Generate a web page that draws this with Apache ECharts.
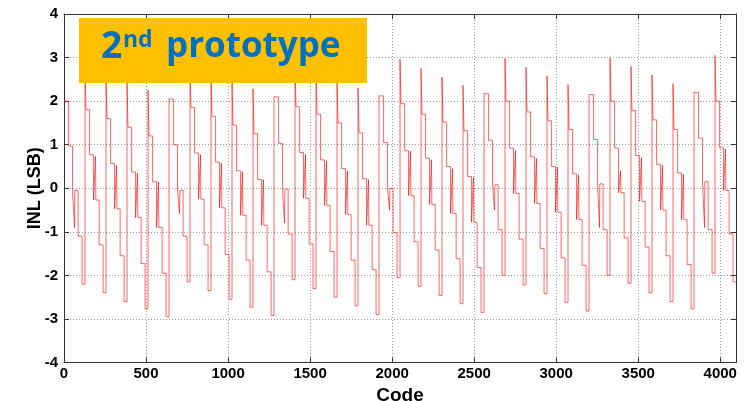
<!DOCTYPE html>
<html>
<head>
<meta charset="utf-8">
<script src="https://cdn.jsdelivr.net/npm/echarts@6/dist/echarts.min.js"></script>
<style>
html,body{margin:0;padding:0;background:#fff;}
#chart{width:748px;height:401px;}
</style>
</head>
<body>
<div id="chart"></div>
<script>
// ---- data ----
const codeMin = 0;
const codeMax = 4096;
const codesPerPeriod = 128;
// length (in codes) of the six plateaus inside one 128-code period
const segmentCodes = [6, 22, 24, 34, 24, 18];
// six plateau levels (LSB) for each of the 32 periods
const inlLevels = [
  [2.00, 2.00, 0.97, -0.05, -1.10, -2.20],
  [2.85, 1.80, 0.77, -0.27, -1.30, -2.40],
  [2.62, 1.60, 0.57, -0.47, -1.55, -2.60],
  [2.45, 1.40, 0.37, -0.67, -1.73, -2.77],
  [2.25, 1.20, 0.15, -0.90, -1.95, -2.95],
  [2.05, 2.05, 1.00, -0.05, -1.10, -2.15],
  [2.88, 1.85, 0.81, -0.25, -1.30, -2.35],
  [2.66, 1.65, 0.60, -0.45, -1.52, -2.55],
  [2.50, 1.45, 0.40, -0.62, -1.65, -2.73],
  [2.28, 1.25, 0.20, -0.85, -1.92, -2.92],
  [2.10, 2.10, 1.03, -0.02, -1.05, -2.10],
  [2.90, 1.87, 0.82, -0.23, -1.28, -2.30],
  [2.70, 1.70, 0.65, -0.40, -1.45, -2.50],
  [2.50, 1.50, 0.45, -0.60, -1.65, -2.70],
  [2.30, 1.27, 0.22, -0.85, -1.87, -2.90],
  [2.12, 2.12, 1.05, 0.00, -1.02, -2.05],
  [2.96, 1.94, 0.86, -0.17, -1.23, -2.25],
  [2.75, 1.70, 0.69, -0.37, -1.42, -2.46],
  [2.55, 1.52, 0.50, -0.58, -1.62, -2.65],
  [2.36, 1.32, 0.27, -0.78, -1.82, -2.85],
  [2.17, 2.17, 1.10, 0.08, -0.95, -2.00],
  [2.98, 2.00, 0.92, -0.12, -1.17, -2.22],
  [2.78, 1.75, 0.72, -0.35, -1.38, -2.42],
  [2.58, 1.55, 0.50, -0.55, -1.60, -2.62],
  [2.38, 1.35, 0.33, -0.72, -1.77, -2.82],
  [2.15, 2.15, 1.12, 0.10, -0.95, -2.00],
  [3.00, 2.00, 0.92, -0.10, -1.14, -2.18],
  [2.80, 1.78, 0.75, -0.30, -1.35, -2.40],
  [2.60, 1.57, 0.55, -0.50, -1.55, -2.60],
  [2.40, 1.35, 0.35, -0.72, -1.75, -2.77],
  [2.20, 2.20, 1.15, 0.15, -0.95, -1.95],
  [3.05, 2.00, 0.93, -0.05, -1.05, -2.15]
];
// short glitch inside the 4th plateau of each period (LSB)
const inlSpikes = [
  -0.90, 0.73, 0.52, 0.35, 0.15, -0.58, 0.77, 0.58, 0.38, 0.20,
  -0.80, 0.78, 0.62, 0.40, 0.20, -0.50, 0.85, 0.65, 0.45, 0.25,
  -0.50, 0.86, 0.68, 0.48, 0.30, -0.90, 0.40, 0.70, 0.52, 0.32,
  -0.90, 0.90
];
const spikeSegment = 3;
const spikeCodeOffset = 12;
const spikeCodeWidth = 2;
const xTicks = [0, 500, 1000, 1500, 2000, 2500, 3000, 3500, 4000];
const yTicks = [-4, -3, -2, -1, 0, 1, 2, 3, 4];
const xName = 'Code';
const yName = 'INL (LSB)';
const titleMain = '2';
const titleSup = 'nd';
const titleRest = 'prototype';

// ---- build the staircase points (code, INL) ----
const points = [];
inlLevels.forEach(function (levels, k) {
  const base = k * codesPerPeriod;
  let off = 0;
  levels.forEach(function (v, s) {
    points.push([base + off, v]);
    if (s === spikeSegment) {
      points.push([base + off + spikeCodeOffset, inlSpikes[k]]);
      points.push([base + off + spikeCodeOffset + spikeCodeWidth, v]);
    }
    off += segmentCodes[s];
  });
});
points.push([codeMax, inlLevels[inlLevels.length - 1][5]]);

const chart = echarts.init(document.getElementById('chart'), null, {renderer: 'canvas'});
const labelFont = {fontFamily: 'Liberation Sans, Arial, sans-serif', fontWeight: 'bold', fontSize: 15, color: '#000'};
const gridLine = {show: true, lineStyle: {color: '#9a9a9a', type: [1, 2], width: 1}};
const frameLine = {show: true, onZero: false, lineStyle: {color: '#333', width: 1}};
const innerTick = {show: true, inside: true, length: 5, lineStyle: {color: '#333'}};

chart.setOption({
  animation: false,
  backgroundColor: '#fff',
  grid: {left: 64, top: 14, width: 672, height: 348.5, containLabel: false, outerBoundsMode: 'none'},
  xAxis: [{
    type: 'value', min: codeMin, max: codeMax, interval: xTicks[1] - xTicks[0],
    axisLine: frameLine, axisTick: innerTick, splitLine: gridLine,
    axisLabel: Object.assign({margin: 4, showMaxLabel: false,
      formatter: function (v) { return xTicks.indexOf(v) >= 0 ? String(v) : ''; }}, labelFont),
    name: xName, nameLocation: 'middle', nameGap: 20,
    nameTextStyle: {fontFamily: 'Liberation Sans, Arial, sans-serif', fontWeight: 'bold', fontSize: 19, color: '#000'}
  }, {
    type: 'value', position: 'top', min: codeMin, max: codeMax, interval: xTicks[1] - xTicks[0],
    axisLine: frameLine, axisTick: innerTick, splitLine: {show: false}, axisLabel: {show: false}
  }],
  yAxis: [{
    type: 'value', min: yTicks[0], max: yTicks[yTicks.length - 1], interval: 1,
    axisLine: frameLine, axisTick: innerTick, splitLine: gridLine,
    axisLabel: Object.assign({margin: 6}, labelFont),
    name: yName, nameLocation: 'middle', nameGap: 20, nameRotate: 90, nameMoveOverlap: false,
    nameTextStyle: {fontFamily: 'Liberation Sans, Arial, sans-serif', fontWeight: 'bold', fontSize: 18, color: '#000'}
  }, {
    type: 'value', position: 'right', min: yTicks[0], max: yTicks[yTicks.length - 1], interval: 1,
    axisLine: frameLine, axisTick: innerTick, splitLine: {show: false}, axisLabel: {show: false}
  }],
  series: [{
    type: 'line', data: points, step: 'end', showSymbol: false, symbol: 'none',
    lineStyle: {color: 'rgba(255,0,0,0.6)', width: 1}, clip: true, z: 3
  }],
  graphic: [
    {type: 'rect', left: 79, top: 18, shape: {width: 288, height: 65}, style: {fill: '#FFC000'}, z: 100},
    {type: 'text', x: 101, y: 47, z: 101, style: {text: titleMain, fill: '#0070C0',
      font: 'bold 37px "Open Sans", "Noto Sans", sans-serif', textVerticalAlign: 'middle', verticalAlign: 'middle'}},
    {type: 'text', x: 123, y: 40, z: 101, style: {text: titleSup, fill: '#0070C0',
      font: 'bold 23px "Open Sans", "Noto Sans", sans-serif', textVerticalAlign: 'middle', verticalAlign: 'middle'}},
    {type: 'text', x: 166, y: 47, z: 101, style: {text: titleRest, fill: '#0070C0',
      font: 'bold 35px "Open Sans", "Noto Sans", sans-serif', textVerticalAlign: 'middle', verticalAlign: 'middle'}}
  ]
});
</script>
</body>
</html>
